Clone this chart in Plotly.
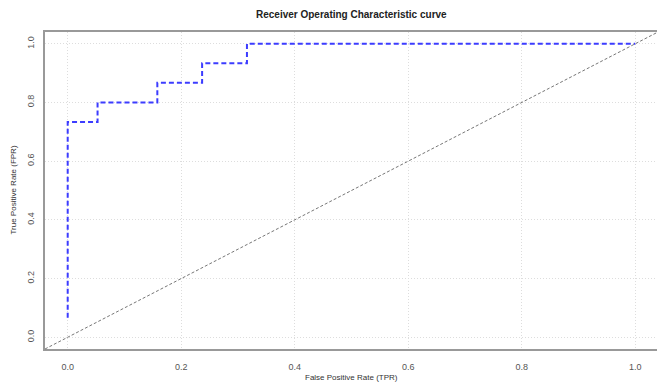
import plotly.graph_objects as go

fpr = [0.0, 0.0, 0.0526, 0.1579, 0.2368, 0.3158, 1.0]
tpr = [0.0667, 0.7333, 0.8, 0.8667, 0.9333, 1.0, 1.0]
tick_vals = [0.0, 0.2, 0.4, 0.6, 0.8, 1.0]
tick_text = ["0.0", "0.2", "0.4", "0.6", "0.8", "1.0"]

FONT = "Liberation Sans, Arial, sans-serif"

fig = go.Figure()
fig.add_shape(type="line", xref="paper", yref="paper", x0=0, y0=0, x1=1, y1=1,
              line=dict(color="#777777", width=1, dash="3px,2px"), layer="above")
fig.add_trace(go.Scatter(x=fpr, y=tpr, mode="lines", line_shape="hv",
                         line=dict(color="#3c3cff", width=2, dash="5px,3px"),
                         showlegend=False, hoverinfo="skip"))

axis_common = dict(
    tickvals=tick_vals, ticktext=tick_text, range=[-0.04, 1.04], automargin=False,
    showgrid=True, gridcolor="#dddddd", griddash="1px,2px", gridwidth=1,
    zeroline=False, showline=True, linecolor="#999999", linewidth=1.5, mirror=True,
    ticks="", tickfont=dict(family=FONT, size=9, color="#555555"),
)
fig.update_xaxes(**axis_common, ticklabelstandoff=8)
fig.update_yaxes(**axis_common, tickangle=-90, ticklabelstandoff=6)

fig.update_layout(
    width=657, height=377,
    margin=dict(l=37, r=7, t=24, b=36),
    paper_bgcolor="white", plot_bgcolor="white",
    font=dict(family=FONT),
    annotations=[
        dict(text="<b>Receiver Operating Characteristic curve</b>", xref="paper", yref="paper",
             x=0.5, y=1, yshift=18, xanchor="center", yanchor="middle", showarrow=False,
             font=dict(family=FONT, size=10, color="#222222")),
        dict(text="False Positive Rate (TPR)", xref="paper", yref="paper",
             x=0.5, y=0, yshift=-28, xanchor="center", yanchor="middle", showarrow=False,
             font=dict(family=FONT, size=8, color="#333333")),
        dict(text="True Positive Rate (FPR)", xref="paper", yref="paper",
             x=0, xshift=-32, y=0.5, xanchor="center", yanchor="middle", textangle=-90,
             showarrow=False, font=dict(family=FONT, size=8, color="#333333")),
    ],
)

fig.write_html("out.html")
